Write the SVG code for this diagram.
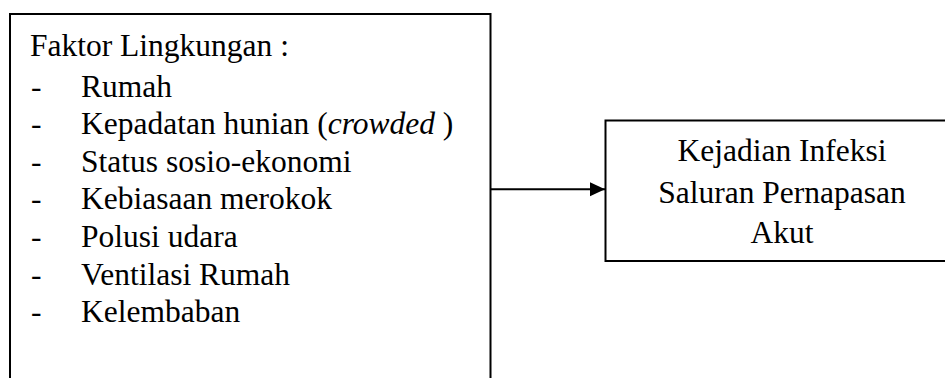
<svg xmlns="http://www.w3.org/2000/svg" width="945" height="378" viewBox="0 0 945 378">
  <style>
    .box { fill: #fff; stroke: #000; stroke-width: 2; }
    .t { font-family: 'Liberation Serif', 'DejaVu Serif', serif; font-size: 31.5px; fill: #000; }
    .c { text-anchor: middle; }
    .link { stroke: #000; stroke-width: 2; fill: none; }
  </style>
  <defs>
    <marker id="arrow" markerUnits="userSpaceOnUse" markerWidth="16" markerHeight="16" refX="15" refY="7" orient="auto">
      <path d="M0,0 L15,7 L0,14 Z" fill="#000"/>
    </marker>
  </defs>
  <rect width="945" height="378" fill="#fff"/>

  <g id="faktor-lingkungan" font-family="Liberation Serif, serif">
    <path class="box" d="M10,390 L10,14 L490.5,14 L490.5,390"/>
    <text class="t" x="30" y="56">Faktor Lingkungan :</text>
    <g class="t">
      <text x="31" y="96.5">-</text><text x="81" y="96.5">Rumah</text>
      <text x="31" y="134.3">-</text><text x="81" y="134.3">Kepadatan hunian (<tspan font-style="italic">crowded</tspan> )</text>
      <text x="31" y="171.8">-</text><text x="81" y="171.8">Status sosio-ekonomi</text>
      <text x="31" y="209.3">-</text><text x="81" y="209.3">Kebiasaan merokok</text>
      <text x="31" y="246.8">-</text><text x="81" y="246.8">Polusi udara</text>
      <text x="31" y="284.6">-</text><text x="81" y="284.6">Ventilasi Rumah</text>
      <text x="31" y="322">-</text><text x="81" y="322">Kelembaban</text>
    </g>
  </g>

  <g id="kejadian-ispa" font-family="Liberation Serif, serif">
    <rect class="box" x="605.5" y="120.5" width="345" height="140.5"/>
    <text class="t c" x="782" y="160.7">Kejadian Infeksi</text>
    <text class="t c" x="782" y="202.5">Saluran Pernapasan</text>
    <text class="t c" x="782" y="243.3">Akut</text>
  </g>

  <g id="connectors">
    <line class="link" x1="490.5" y1="189.3" x2="605" y2="189.3" marker-end="url(#arrow)"/>
  </g>
</svg>
